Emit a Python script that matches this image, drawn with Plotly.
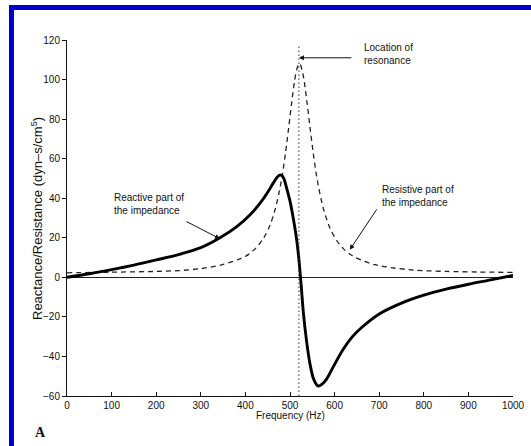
import plotly.graph_objects as go

# ---- data ----
freq_reactive = [0, 50, 100, 150, 200, 250, 300, 343, 380, 410, 433, 450, 462, 470, 476,
                 481, 486, 492, 500, 508, 515, 520, 525, 530, 537, 545, 553, 563, 572, 582,
                 600, 619, 640, 660, 700, 750, 800, 850, 900, 950, 1000]
reactance = [0, 1.8, 3.9, 6.2, 8.8, 11.5, 15, 20, 25.5, 31.5, 37.5, 43, 47.5, 50.3, 51.6,
             51.6, 50, 45.5, 38.5, 29, 19, 9, -4, -18, -32, -44, -51.5, -55, -54, -51.5,
             -44, -36.5, -30, -25.5, -18.5, -13, -9, -6, -3.5, -1.3, 1]

freq_resistive = [0, 100, 200, 250, 300, 350, 400, 420, 440, 455, 465, 475, 483, 490, 497,
                  504, 510, 515, 519, 521, 523, 527, 532, 538, 545, 552, 559, 567, 577,
                  590, 605, 620, 640, 660, 690, 730, 780, 850, 920, 1000]
resistance = [2.3, 2.6, 3.0, 3.4, 4.4, 6.5, 10.6, 14, 19.5, 26.3, 33, 42.3, 52, 63, 75.6,
              88.7, 99, 105, 107.6, 108, 107.6, 105, 99, 88.7, 75.6, 63, 52, 42.3, 33,
              24.7, 18.5, 14.4, 10.9, 8.7, 6.4, 4.8, 3.6, 3.0, 2.7, 2.5]

resonance_freq = [520, 520]
resonance_span = [-60, 117]

x_ticks = [0, 100, 200, 300, 400, 500, 600, 700, 800, 900, 1000]
y_ticks = [-60, -40, -20, 0, 20, 40, 60, 80, 100, 120]

# ---- layout helpers (pixel -> paper) ----
W, H = 531, 446
L, R, T, B = 67, 18, 40, 50


def px(x):
    return (x - L) / (W - L - R)


def py(y):
    return (H - B - y) / (H - T - B)


FONT = "Liberation Sans, Arial, sans-serif"

fig = go.Figure()
fig.add_trace(go.Scatter(x=freq_resistive, y=resistance, mode="lines",
                         line=dict(color="#222222", width=1.3, dash="5px,4px", shape="spline", smoothing=0.8),
                         hoverinfo="skip", showlegend=False))
fig.add_trace(go.Scatter(x=freq_reactive, y=reactance, mode="lines",
                         line=dict(color="#000000", width=2.9, shape="spline", smoothing=0.8),
                         hoverinfo="skip", showlegend=False))
fig.add_trace(go.Scatter(x=resonance_freq, y=resonance_span, mode="lines",
                         line=dict(color="#333333", width=1, dash="1.5px,2.5px"),
                         hoverinfo="skip", showlegend=False))

annotations = [
    dict(text="Location of<br>resonance", x=px(362), y=py(40), xref="paper", yref="paper",
         xanchor="left", yanchor="top", align="left", showarrow=False,
         font=dict(family=FONT, size=10, color="#111111")),
    dict(text="Reactive part of<br>the impedance", x=px(112), y=py(190), xref="paper", yref="paper",
         xanchor="left", yanchor="top", align="left", showarrow=False,
         font=dict(family=FONT, size=10, color="#111111")),
    dict(text="Resistive part of<br>the impedance", x=px(380), y=py(182), xref="paper", yref="paper",
         xanchor="left", yanchor="top", align="left", showarrow=False,
         font=dict(family=FONT, size=10, color="#111111")),
    # arrows
    dict(text="", x=520, y=111, xref="x", yref="y", showarrow=True, ax=54, ay=0,
         arrowhead=2, arrowsize=1, arrowwidth=1, arrowcolor="#111111", standoff=0),
    dict(text="", x=343, y=19.5, xref="x", yref="y", showarrow=True, ax=-35, ay=-18,
         arrowhead=2, arrowsize=1, arrowwidth=1, arrowcolor="#111111", standoff=0),
    dict(text="", x=634, y=13.9, xref="x", yref="y", showarrow=True, ax=28, ay=-42,
         arrowhead=2, arrowsize=1, arrowwidth=1, arrowcolor="#111111", standoff=0),
    # axis titles
    dict(text="Frequency (Hz)", x=px(290), y=py(416), xref="paper", yref="paper",
         xanchor="center", yanchor="middle", showarrow=False,
         font=dict(family=FONT, size=10, color="#111111")),
    dict(text="Reactance/Resistance (dyn\u2013s/cm<sup>5</sup>)", x=px(37), y=py(219),
         xref="paper", yref="paper", xanchor="center", yanchor="middle", textangle=-90,
         showarrow=False, font=dict(family=FONT, size=13, color="#111111")),
    dict(text="<b>A</b>", x=px(40), y=py(432), xref="paper", yref="paper",
         xanchor="center", yanchor="middle", showarrow=False,
         font=dict(family="Liberation Serif, Times New Roman, serif", size=14, color="#111111")),
]

shapes = [
    dict(type="rect", xref="paper", yref="paper", x0=px(9), x1=px(531), y0=py(10), y1=py(5),
         fillcolor="#0000CD", line=dict(width=0), layer="above"),
    dict(type="rect", xref="paper", yref="paper", x0=px(9), x1=px(14), y0=py(446), y1=py(5),
         fillcolor="#0000CD", line=dict(width=0), layer="above"),
]

fig.update_layout(
    width=W, height=H,
    margin=dict(l=L, r=R, t=T, b=B, autoexpand=False),
    paper_bgcolor="white", plot_bgcolor="white",
    showlegend=False,
    annotations=annotations,
    shapes=shapes,
    xaxis=dict(range=[0, 1000], tickvals=x_ticks, ticks="inside", ticklen=4, tickcolor="#111111",
               showline=True, linecolor="#111111", linewidth=1, showgrid=False, zeroline=False,
               tickfont=dict(family=FONT, size=10, color="#111111"), fixedrange=True),
    yaxis=dict(range=[-60, 120], tickvals=y_ticks, ticks="outside", ticklen=4, tickcolor="#111111",
               showline=True, linecolor="#111111", linewidth=1, showgrid=False,
               zeroline=True, zerolinecolor="#222222", zerolinewidth=1,
               tickfont=dict(family=FONT, size=10, color="#111111"), fixedrange=True),
)

fig.write_html("out.html", config={"displayModeBar": False, "staticPlot": True},
               post_script="document.body.style.margin='0';document.body.style.overflow='hidden';")
